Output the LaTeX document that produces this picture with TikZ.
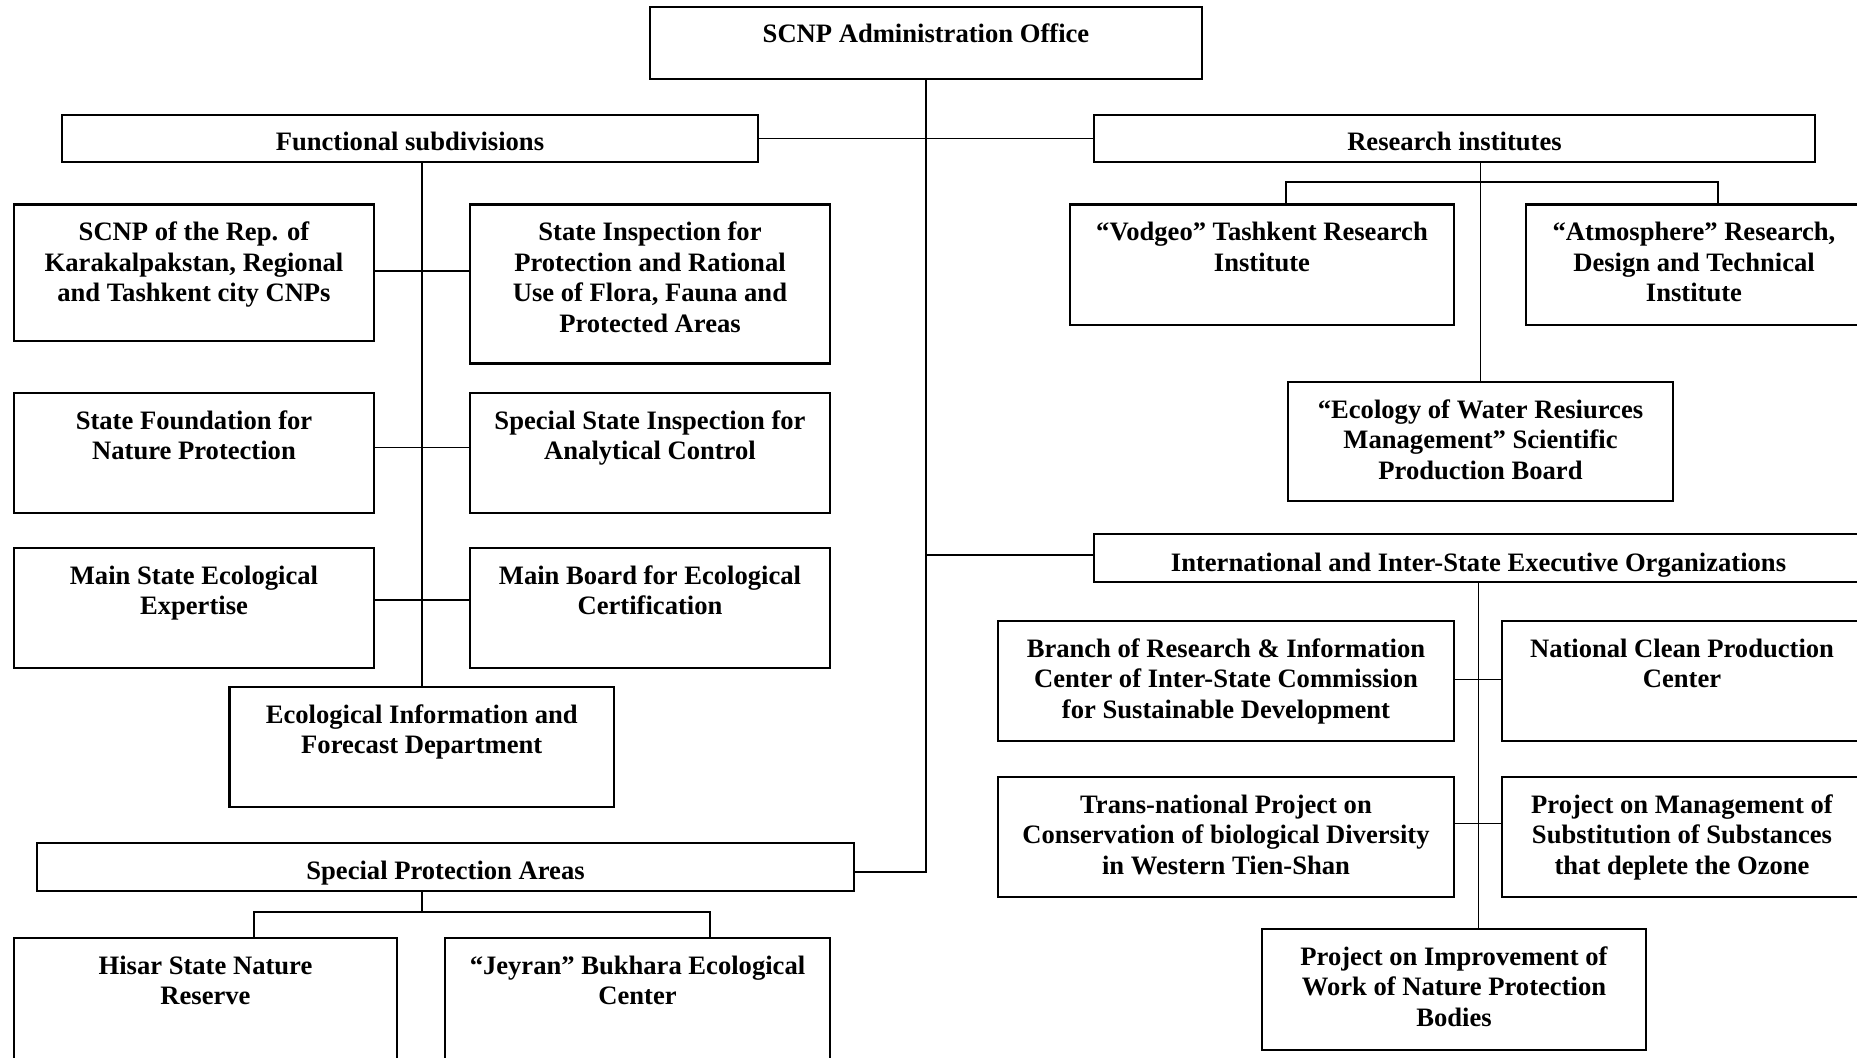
\documentclass[tikz,border=0pt]{standalone}
\usepackage{fontspec}
\setmainfont{Liberation Serif}
\tikzset{
  orgbox/.style={draw=black, line width=2.2pt, inner sep=0pt, outer sep=0pt, fill=white,
    font=\fontsize{26.6}{30.6}\selectfont\bfseries},
  conn/.style={draw=black, line width=1.7pt}
}
\newcommand{\obx}[7][36]{%
  \pgfmathsetmacro\bw{#5-#3}%
  \pgfmathsetmacro\bh{#6-#4}%
  \pgfmathsetmacro\bcx{(#3+#5)/2}%
  \pgfmathsetmacro\bcy{(#4+#6)/2}%
  \node[orgbox, minimum width=\bw pt, minimum height=\bh pt] (#2) at (\bcx,\bcy)
    {\parbox[c][\bh pt][t]{\bw pt}{\centering\rule{0pt}{#1pt}#7}};}
\begin{document}
\begin{tikzpicture}[x=1pt,y=-1pt]
\useasboundingbox (0,0) rectangle (1857,1057);
\clip (0,0) rectangle (1857,1057);
\fill[white] (0,0) rectangle (1857,1057);

% connectors first (boxes drawn on top)
\coordinate (ij) at (1094,555);
\coordinate (sl) at (254,912);
\coordinate (sr) at (710,912);
\coordinate (sj) at (421.7,912);
\coordinate (rl) at (1286,181.7);
\coordinate (rr) at (1718,181.7);

% boxes
\obx{admin}{650}{7}{1202}{79}{SCNP Administration Office}
\obx[35]{func}{62}{115}{758}{162}{Functional subdivisions}
\obx[35]{res}{1094}{115}{1815}{162}{Research institutes}
\obx{scnp}{14}{204.5}{374}{341}{SCNP of the Rep. of\\Karakalpakstan, Regional\\and Tashkent city CNPs}
\obx{insp}{470}{204.5}{830}{363.5}{State Inspection for\\Protection and Rational\\Use of Flora, Fauna and\\Protected Areas}
\obx{found}{14}{393}{374}{513}{State Foundation for\\Nature Protection}
\obx{anal}{470}{393}{830}{513}{Special State Inspection for\\Analytical Control}
\obx{expert}{14}{548}{374}{668}{Main State Ecological\\Expertise}
\obx{cert}{470}{548}{830}{668}{Main Board for Ecological\\Certification}
\obx{ecoinfo}{229.5}{687}{614}{807}{Ecological Information and\\Forecast Department}
\obx[36]{spa}{37}{843}{854}{891}{Special Protection Areas}
\obx{hisar}{14}{938}{397}{1100}{Hisar State Nature\\Reserve}
\obx{jeyran}{445}{938}{830}{1100}{“Jeyran” Bukhara Ecological\\Center}
\obx{vodgeo}{1070}{204.5}{1454}{325}{“Vodgeo” Tashkent Research\\Institute}
\obx{atmo}{1526}{204.5}{1862}{325}{“Atmosphere” Research,\\Design and Technical\\Institute}
\obx{water}{1288}{382}{1673}{501}{“Ecology of Water Resiurces\\Management” Scientific\\Production Board}
\obx[37]{intl}{1094}{534}{1863}{582}{International and Inter-State Executive Organizations}
\obx{branch}{998}{621}{1454}{741}{Branch of Research \& Information\\Center of Inter-State Commission\\for Sustainable Development}
\obx{clean}{1502}{621}{1862}{741}{National Clean Production\\Center}
\obx{trans}{998}{777}{1454}{897}{Trans-national Project on\\Conservation of biological Diversity\\in Western Tien-Shan}
\obx{ozone}{1502}{777}{1862}{897}{Project on Management of\\Substitution of Substances\\that deplete the Ozone}
\obx{improve}{1262}{929}{1646}{1050}{Project on Improvement of\\Work of Nature Protection\\Bodies}

% main trunk
\draw[conn] (admin.south) |- ([yshift=-5pt]spa.east);
\draw[conn] (func.east) -- (res.west);
\draw[conn] (admin.south |- ij) -- (ij);

% functional subdivisions
\draw[conn] (ecoinfo.north |- func.south) -- (ecoinfo.north);
\draw[conn] ([yshift=2pt]scnp.east) -- ([yshift=2pt]scnp.east -| insp.west);
\draw[conn] ([yshift=5.5pt]found.east) -- ([yshift=5.5pt]anal.west);
\draw[conn] ([yshift=8pt]expert.east) -- ([yshift=8pt]cert.west);

% special protection areas
\draw[conn] (sj |- spa.south) -- (sj);
\draw[conn] (sl |- hisar.north) -- (sl) -- (sr) -- (sr |- jeyran.north);

% research institutes
\draw[conn] (water.north |- res.south) -- (water.north);
\draw[conn] (rl |- vodgeo.north) -- (rl) -- (rr) -- (rr |- atmo.north);

% international
\draw[conn] (intl.south) -- (intl.south |- improve.north);
\draw[conn] ([yshift=1.5pt]branch.east) -- ([yshift=1.5pt]clean.west);
\draw[conn] ([yshift=13.5pt]trans.east) -- ([yshift=13.5pt]ozone.west);
\end{tikzpicture}
\end{document}
